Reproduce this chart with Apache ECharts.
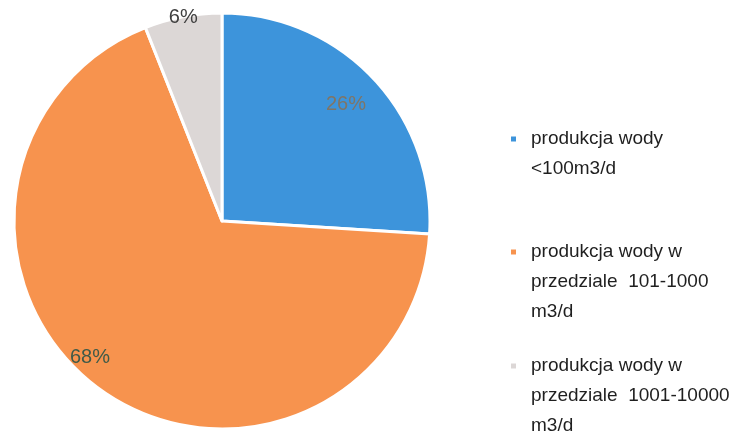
<!DOCTYPE html>
<html>
<head>
<meta charset="utf-8">
<script src="https://cdn.jsdelivr.net/npm/echarts@6/dist/echarts.min.js"></script>
<style>
  html, body { margin: 0; padding: 0; background: #fff; }
  #chart { width: 745px; height: 433px; }
</style>
</head>
<body>
<div id="chart"></div>
<script>
// data
const categories = [
  "produkcja wody\n<100m3/d",
  "produkcja wody w\nprzedziale  101-1000\nm3/d",
  "produkcja wody w\nprzedziale  1001-10000\nm3/d",
];
const shares = [26, 68, 6];

const colors = ["#3d94db", "#f7934e", "#dcd7d6"];
const labelColors = ["#7f7566", "#3f5a48", "#404040"];
// where each percentage sits (radius from centre, angle shift in degrees)
const labelRadius = [170, 190, 207];
const labelShift = [0, 8, 0];
const pieCenter = [222, 221];
const legendTops = [94, 177, 291];

const font = "'Liberation Sans', Arial, sans-serif";

// leading blank lines keep the marker level with the first text line
function padLines(name) {
  const n = name.split("\n").length;
  return "\n".repeat(n - 1) + name;
}

const chart = echarts.init(document.getElementById("chart"));

chart.setOption({
  animation: false,
  legend: categories.map((name, i) => ({
    data: [name],
    orient: "vertical",
    left: 509,
    top: legendTops[i],
    padding: 0,
    icon: "rect",
    itemWidth: 7,
    itemHeight: 7,
    selectedMode: false,
    formatter: padLines,
    textStyle: {
      fontFamily: font,
      fontSize: 19,
      lineHeight: 30,
      color: "#1f1f1f",
      padding: [0, 0, 0, 9],
    },
  })),
  series: [
    {
      type: "pie",
      center: pieCenter,
      radius: 208,
      startAngle: 90,
      clockwise: true,
      itemStyle: { borderColor: "#fff", borderWidth: 3 },
      label: {
        position: "inside",
        formatter: "{c}%",
        fontFamily: font,
        fontSize: 20,
      },
      labelLayout: (p) => {
        const r = p.labelRect;
        const cx = r.x + r.width / 2;
        const cy = r.y + r.height / 2;
        const vx = cx - pieCenter[0];
        const vy = cy - pieCenter[1];
        const a = Math.atan2(vx, -vy) + (labelShift[p.dataIndex] * Math.PI) / 180;
        const k = labelRadius[p.dataIndex];
        return {
          dx: pieCenter[0] + k * Math.sin(a) - cx,
          dy: pieCenter[1] - k * Math.cos(a) - cy,
        };
      },
      data: categories.map((name, i) => ({
        name: name,
        value: shares[i],
        itemStyle: { color: colors[i] },
        label: { color: labelColors[i] },
      })),
    },
  ],
});
</script>
</body>
</html>
